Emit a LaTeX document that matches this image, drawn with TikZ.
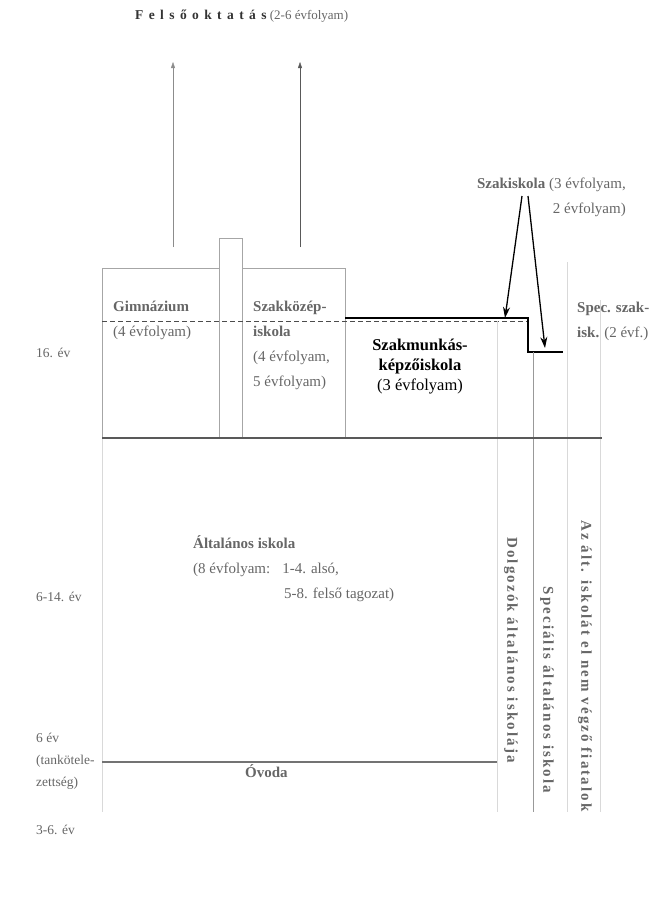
\documentclass[tikz,border=0pt]{standalone}
\usepackage{fontspec}
\setmainfont{Liberation Serif}
\newfontfamily\spacedfont[LetterSpace=40]{Liberation Serif}
\newfontfamily\colfont[LetterSpace=14]{Liberation Serif}
\usetikzlibrary{arrows.meta}
\tikzset{scan/.style={text=black!60, font=\fontsize{15}{25}\selectfont, inner sep=0pt},
         agelabel/.style={scan, font=\fontsize{13.5}{22}\selectfont, anchor=west, align=left},
         columntext/.style={scan, font=\colfont\bfseries\fontsize{15}{18}\selectfont, rotate=-90},
         scanline/.style={draw=black!35, line width=0.6pt},
         faintline/.style={draw=black!15, line width=0.5pt},
         upmark/.style={-{Triangle[length=6pt,width=4pt]}, draw=black!45},
         toarrow/.style={-{Stealth[length=11pt,width=7pt]}, line width=1.3pt}}

\begin{document}
\begin{tikzpicture}[x=1pt,y=-1pt]
        \useasboundingbox (0,0) rectangle (650,898);
        % title and arrows into it
        \node[scan, anchor=west, font=\fontsize{13}{15}\selectfont] (felso) at (135,16) {{\spacedfont\bfseries\fontsize{13.5}{15}\selectfont\color{black!80}Felsőoktatás} (2-6 évfolyam)};
        \coordinate (gimtop) at (173,247);
        \coordinate (szktop) at (300,247);
        \draw[upmark] (gimtop) -- (gimtop |- 0,62);
        \draw[upmark, draw=black!65] (szktop) -- (szktop |- 0,62);
        % upper boxes
        \draw[scanline] (102,438) -- (102,268) -- (219,268);
        \draw[scanline] (219,438) -- (219,238) -- (242,238) -- (242,438);
        \draw[scanline] (242,268) -- (345,268) -- (345,438);
        \draw[draw=black!70, line width=0.8pt, dash pattern=on 5pt off 3pt] (102,321) -- (528,321);
        \draw[line width=1.2pt] (345,318) -- (528,318) -- (528,352) -- (563,352);
        % vertical columns
        \draw[faintline] (102,438) -- (102,812);
        \draw[faintline] (497,321) -- (497,812);
        \draw[draw=black!40, line width=0.8pt] (533,352) -- (533,812);
        \draw[faintline] (567,262) -- (567,812);
        \draw[faintline] (600,300) -- (600,812);
        % main lines
        \draw[draw=black!65, line width=1.4pt] (102,438) -- (602,438);
        \draw[draw=black!55, line width=1.2pt] (102,762) -- (497,762);
        % texts
        \node[scan, anchor=north west, align=left] (gim) at (113,301) {\textbf{Gimnázium}\\(4 évfolyam)};
        \node[scan, anchor=north west, align=left] (szk) at (253,301) {\textbf{Szakközép-}\\\textbf{iskola}\\(4 évfolyam,\\5 évfolyam)};
        \node[font=\fontsize{16.5}{20}\selectfont, align=center, inner sep=0pt] (szm) at (420,367) {\textbf{Szakmunkás-}\\\textbf{képzőiskola}\\(3 évfolyam)};
        \node[scan, anchor=north east, align=right] (szi) at (626,178) {\textbf{Szakiskola} (3 évfolyam,\\2 évfolyam)};
        \node[scan, anchor=north west, align=left] (spec) at (577,302) {\textbf{Spec. szak-}\\\textbf{isk.} (2 évf.)};
        \coordinate (szileft) at (522,196);
        \coordinate (sziright) at (528,196);
        \draw[toarrow] (szileft) -- (505,318);
        \draw[toarrow] (sziright) -- (545,348);
        \node[scan, anchor=north west, align=left] (alt) at (193,535) {\textbf{Általános iskola}\\(8 évfolyam:\hspace{12pt}1-4. alsó,\\\hspace{91pt}5-8. felső tagozat)};
        \node[scan, anchor=north west] (ovoda) at (245,764) {\textbf{Óvoda}};
        \node[columntext] (dolg) at (511,650) {Dolgozók általános iskolája};
        \node[columntext] (spec2) at (547,690) {Speciális általános iskola};
        \node[columntext] (nemv) at (585,666) {Az ált. iskolát el nem végző fiatalok};
        % ages
        \node[agelabel] (ev16) at (36,353) {16. év};
        \node[agelabel] (ev614) at (36,597) {6-14. év};
        \node[agelabel, anchor=north west] (ev6) at (36,733) {6 év\\(tankötele-\\zettség)};
        \node[agelabel] (ev36) at (36,830) {3-6. év};
\end{tikzpicture}
\end{document}
